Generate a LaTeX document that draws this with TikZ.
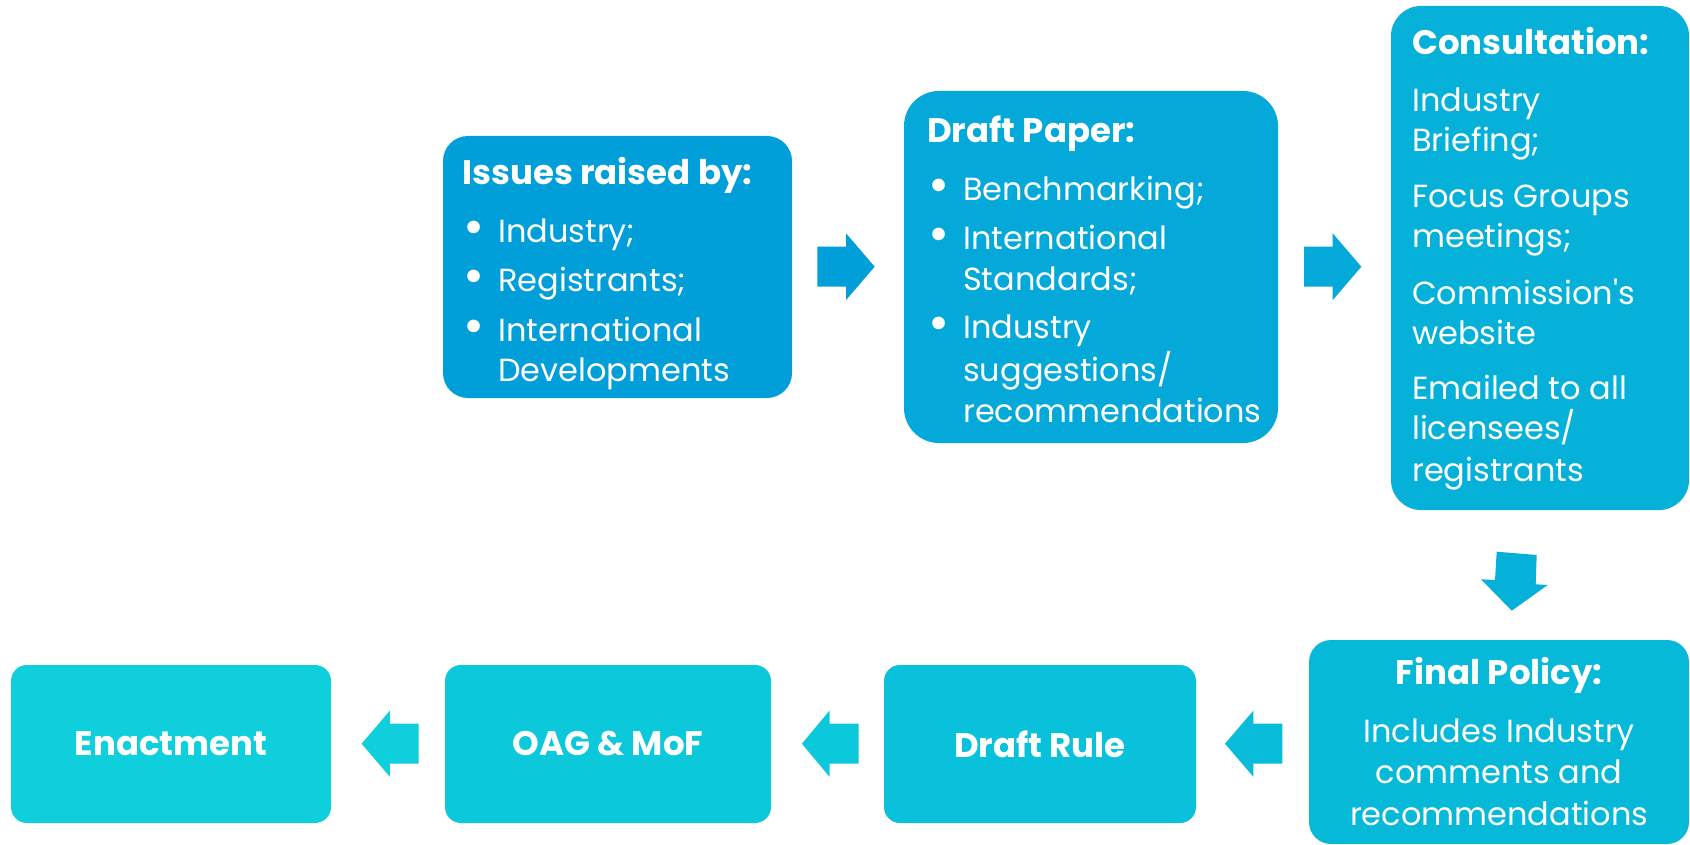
\documentclass[tikz,border=0pt]{standalone}
\usepackage{fontspec}
\setmainfont{Poppins}
\definecolor{cA}{HTML}{009FD9}
\definecolor{cB}{HTML}{04A9DA}
\definecolor{cC}{HTML}{06B1D9}
\definecolor{cD}{HTML}{07B9D9}
\definecolor{cE}{HTML}{09C1DA}
\definecolor{cF}{HTML}{0BC8DB}
\definecolor{cG}{HTML}{0ECFDB}
\newcommand\bul{\makebox[36pt][l]{\hspace{1pt}\raisebox{-1.5pt}{\scalebox{1.6}{\textbullet}}}}
\newcommand\ind{\hspace*{36pt}}
\newcommand\ttl[1]{{\fontsize{34}{40}\selectfont\bfseries #1}}
\begin{document}
\begin{tikzpicture}[x=1pt,y=-1pt,
  box/.style={rectangle, rounded corners=#1, inner sep=0pt, draw=none},
  txt/.style={inner sep=0pt, text=white, font=\fontsize{32}{40}\selectfont},
  btxt/.style={text=white, font=\fontsize{34}{40}\selectfont\bfseries}]
\fill[white] (0,0) rectangle (1690,845);
\useasboundingbox (0,0) rectangle (1690,845);
% boxes
\node[box=25, fill=cA, minimum width=349pt, minimum height=262pt] (b1) at (617.5,267) {};
\node[box=35, fill=cB, minimum width=374pt, minimum height=352pt] (b2) at (1091,267) {};
\node[box=30, fill=cC, minimum width=298pt, minimum height=504pt] (b3) at (1540,258) {};
\node[box=22, fill=cD, minimum width=380pt, minimum height=204pt] (b4) at (1499,742) {};
\node[box=16, fill=cE, minimum width=312pt, minimum height=158pt, btxt] (b5) at (1040,744) {Draft Rule};
\node[box=16, fill=cF, minimum width=326pt, minimum height=158pt, btxt] (b6) at (608,744) {OAG \& MoF};
\node[box=16, fill=cG, minimum width=320pt, minimum height=158pt, btxt] (b7) at (171,744) {Enactment};
% texts
\node[txt, anchor=base west] (t1) at (462,185) {\parbox[t]{320pt}{\raggedright
  \ttl{Issues raised by:}\\[18pt]
  \bul Industry;\\[9pt]
  \bul Registrants;\\[10pt]
  \bul International\\
  \ind Developments}};
\node[txt, anchor=base west] (t2) at (927,143) {\parbox[t]{340pt}{\raggedright
  \ttl{Draft Paper:}\\[18pt]
  \bul Benchmarking;\\[9pt]
  \bul International\\[1pt]
  \ind Standards;\\[8pt]
  \bul Industry\\[3pt]
  \ind suggestions/\\[1pt]
  \ind recommendations}};
\node[txt, anchor=base west] (t3) at (1412,55) {\parbox[t]{270pt}{\raggedright
  \ttl{Consultation:}\\[17pt]
  Industry\\
  Briefing;\\[16pt]
  Focus Groups\\
  meetings;\\[17pt]
  Commission\textquotesingle s\\
  website\\[15pt]
  Emailed to all\\
  licensees/\\[2pt]
  registrants}};
\node[txt, anchor=base west] (t4) at (1309,684) {\parbox[t]{380pt}{\centering
  \ttl{Final Policy:}\\[18pt]
  Includes Industry\\[1pt]
  comments and\\[2pt]
  recommendations}};
% arrows
\coordinate (a1) at (874.7,266.7);
\fill[cA] (a1) -- ++(-28.7,-33.4) -- ++(0,13.4) -- ++(-28.7,0) -- ++(0,40) -- ++(28.7,0) -- ++(0,13.4) -- cycle;
\coordinate (a2) at (1361.3,266.7);
\fill[cB] (a2) -- ++(-28.6,-33.4) -- ++(0,13.4) -- ++(-28.7,0) -- ++(0,40) -- ++(28.7,0) -- ++(0,13.4) -- cycle;
\coordinate (a3) at (1511.7,610.7);
\fill[cC] (a3) -- (1547.7,585) -- (1535.7,584.3) -- (1536.7,555) -- (1496.7,551.7) -- (1495,580) -- (1481,579.3) -- cycle;
\coordinate (a4) at (1225,743.7);
\fill[cD!60!cE] (a4) -- ++(28.3,-33) -- ++(0,13) -- ++(29,0) -- ++(0,40) -- ++(-29,0) -- ++(0,13) -- cycle;
\coordinate (a5) at (801.9,743.7);
\fill[cF] (a5) -- ++(27.6,-33) -- ++(0,13) -- ++(29.2,0) -- ++(0,40) -- ++(-29.2,0) -- ++(0,13) -- cycle;
\coordinate (a6) at (361.6,743.7);
\fill[cG] (a6) -- ++(28.2,-33) -- ++(0,13) -- ++(28.7,0) -- ++(0,40) -- ++(-28.7,0) -- ++(0,13) -- cycle;
\end{tikzpicture}
\end{document}
